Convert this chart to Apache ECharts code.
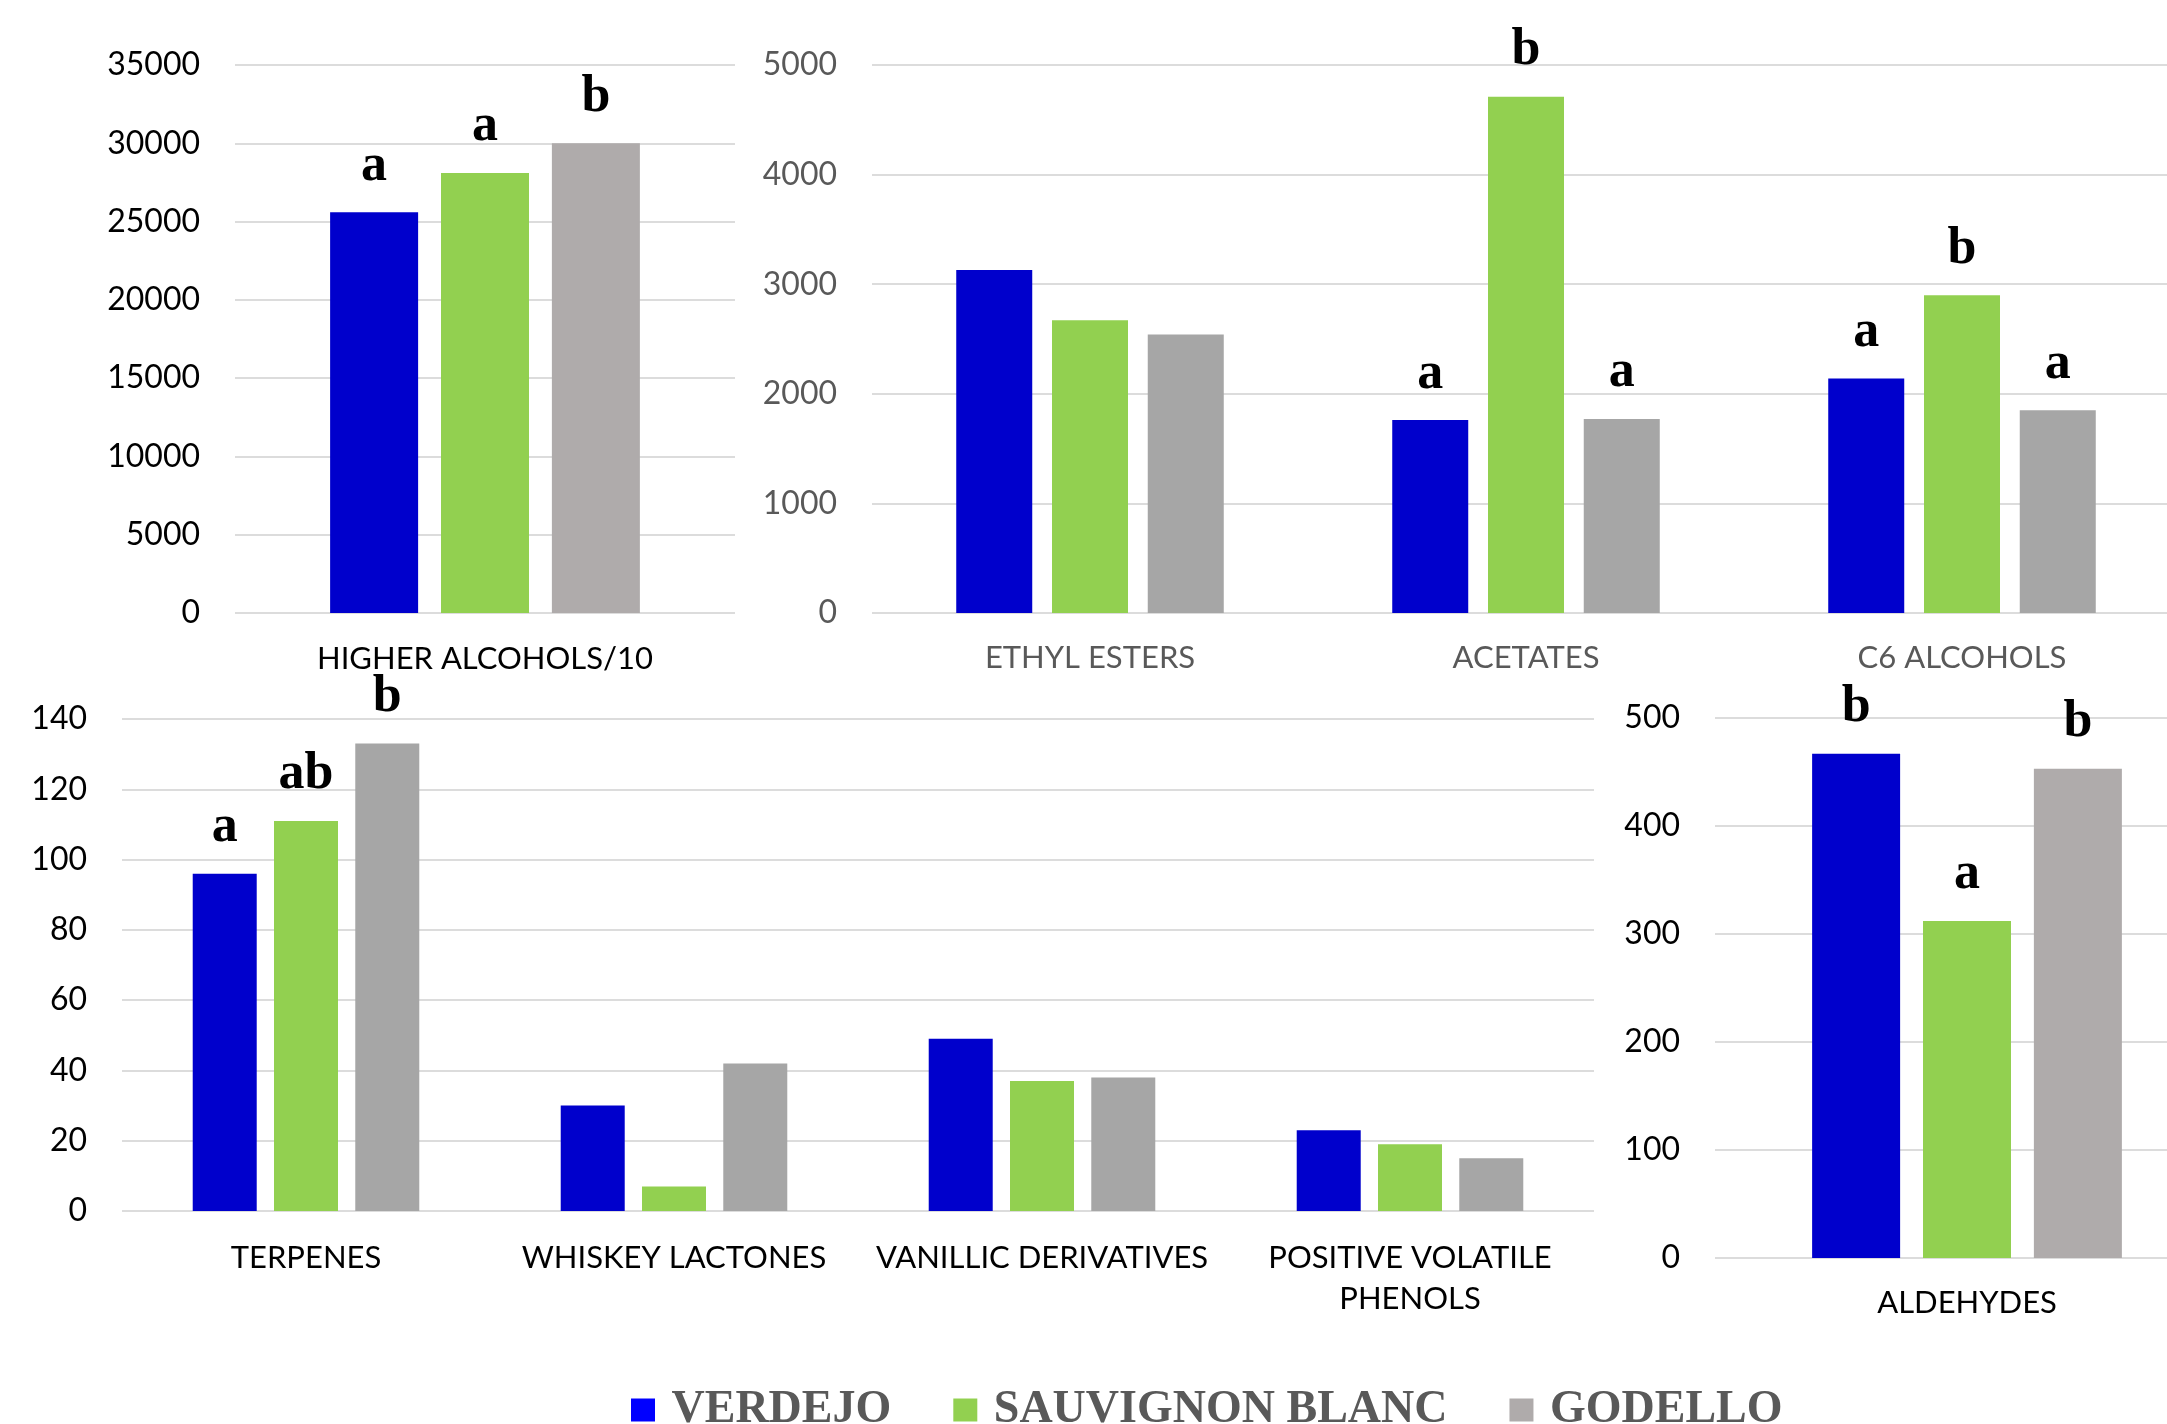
<!DOCTYPE html>
<html>
<head>
<meta charset="utf-8">
<title>Aroma families</title>
<script src="https://cdn.jsdelivr.net/npm/echarts@6/dist/echarts.min.js"></script>
<style>
  html, body { margin: 0; padding: 0; background: #fff; }
  #chart { width: 2167px; height: 1424px; }
</style>
</head>
<body>
<div id="chart"></div>
<script>
// grape varieties (legend)
const grapes = ['VERDEJO', 'SAUVIGNON BLANC', 'GODELLO'];

// panel 1 - higher alcohols
const higherCats = ['HIGHER ALCOHOLS/10'];
const higherVerdejo = [25600];
const higherSauvignon = [28100];
const higherGodello = [30000];
const higherLetters = [['a'], ['a'], ['b']];

// panel 2 - esters, acetates, C6
const esterCats = ['ETHYL ESTERS', 'ACETATES', 'C6 ALCOHOLS'];
const esterVerdejo = [3130, 1760, 2140];
const esterSauvignon = [2670, 4710, 2900];
const esterGodello = [2540, 1770, 1850];
const esterLetters = [['', 'a', 'a'], ['', 'b', 'b'], ['', 'a', 'a']];

// panel 3 - minor families
const minorCats = ['TERPENES', 'WHISKEY LACTONES', 'VANILLIC DERIVATIVES', 'POSITIVE VOLATILE\nPHENOLS'];
const minorVerdejo = [96, 30, 49, 23];
const minorSauvignon = [111, 7, 37, 19];
const minorGodello = [133, 42, 38, 15];
const minorLetters = [['a', '', '', ''], ['ab', '', '', ''], ['b', '', '', '']];

// panel 4 - aldehydes
const aldCats = ['ALDEHYDES'];
const aldVerdejo = [467];
const aldSauvignon = [312];
const aldGodello = [453];
const aldLetters = [['b'], ['a'], ['b']];

// y axis ticks
const yMax = [35000, 5000, 140, 500];
const yStep = [5000, 1000, 20, 100];

const BLUE = '#0000CC';
const GREEN = '#92D050';
const GREY_A = '#AFABAB';
const GREY_B = '#A6A6A6';
const GRID_LINE = '#DCDCDC';
const SANS = 'Lato';
const SERIF = 'Liberation Serif';

const panels = [
  { cats: higherCats, values: [higherVerdejo, higherSauvignon, higherGodello], letters: higherLetters,
    grid: { left: 235, top: 65, width: 500, height: 548 }, barWidth: 88, gap: '26%',
    colors: [BLUE, GREEN, GREY_A], text: '#000', margin: 25 },
  { cats: esterCats, values: [esterVerdejo, esterSauvignon, esterGodello], letters: esterLetters,
    grid: { left: 872, top: 65, width: 1308, height: 548 }, barWidth: 76, gap: '26%',
    colors: [BLUE, GREEN, GREY_B], text: '#595959', margin: 24 },
  { cats: minorCats, values: [minorVerdejo, minorSauvignon, minorGodello], letters: minorLetters,
    grid: { left: 122, top: 719, width: 1472, height: 492 }, barWidth: 64, gap: '27%',
    colors: [BLUE, GREEN, GREY_B], text: '#000', margin: 26 },
  { cats: aldCats, values: [aldVerdejo, aldSauvignon, aldGodello], letters: aldLetters,
    grid: { left: 1715, top: 718, width: 504, height: 540 }, barWidth: 88, gap: '26%',
    colors: [BLUE, GREEN, GREY_A], text: '#000', margin: 24 }
];

const chart = echarts.init(document.getElementById('chart'));

const grids = [], xAxes = [], yAxes = [], series = [];
panels.forEach((p, i) => {
  // grids run past the right edge like the cropped original
  grids.push(Object.assign({ containLabel: false, outerBoundsMode: 'none' }, p.grid));
  xAxes.push({
    type: 'category', gridIndex: i, data: p.cats,
    axisLine: { show: false }, axisTick: { show: false },
    axisLabel: { interval: 0, color: p.text, fontFamily: SANS, fontSize: 31, lineHeight: 41, margin: p.margin }
  });
  yAxes.push({
    type: 'value', gridIndex: i, min: 0, max: yMax[i], interval: yStep[i],
    axisLine: { show: false }, axisTick: { show: false },
    axisLabel: { color: p.text, fontFamily: SANS, fontSize: 32, margin: 35, formatter: v => String(v) },
    splitLine: { lineStyle: { color: GRID_LINE, width: 2 } }
  });
  grapes.forEach((g, k) => {
    series.push({
      type: 'bar', name: g, xAxisIndex: i, yAxisIndex: i,
      data: p.values[k], barWidth: p.barWidth, barGap: p.gap,
      itemStyle: { color: p.colors[k] },
      label: {
        show: true, position: 'top', distance: 20,
        formatter: d => p.letters[k][d.dataIndex],
        fontFamily: SERIF, fontWeight: 'bold', fontSize: 52, color: '#000'
      },
      emphasis: { disabled: true }
    });
  });
});

chart.setOption({
  animation: false,
  grid: grids,
  xAxis: xAxes,
  yAxis: yAxes,
  legend: {
    left: 631, top: 1387, padding: 0,
    icon: 'rect', itemWidth: 24, itemHeight: 23, itemGap: 62,
    selectedMode: false,
    formatter: name => ' ' + name,
    data: [
      { name: grapes[0], itemStyle: { color: '#0000FF' } },
      { name: grapes[1], itemStyle: { color: GREEN } },
      { name: grapes[2], itemStyle: { color: GREY_A } }
    ],
    textStyle: { fontFamily: SERIF, fontWeight: 'bold', fontSize: 46, lineHeight: 46, color: '#595959' }
  },
  series: series
});
</script>
</body>
</html>
